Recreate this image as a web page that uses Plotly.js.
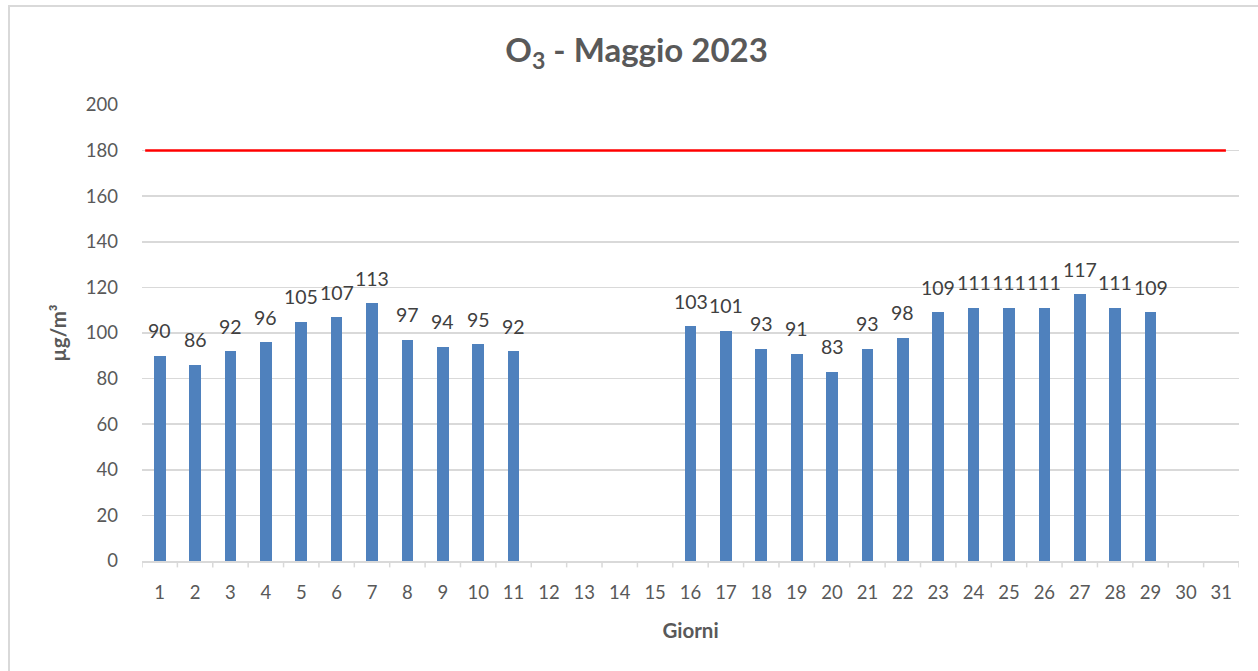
<!DOCTYPE html>
<html>
<head>
<meta charset="utf-8">
<script src="https://cdn.plot.ly/plotly-3.0.1.min.js"></script>
<style>
html,body{margin:0;padding:0;background:#fff;overflow:hidden;}
#frame{position:absolute;left:8px;top:5px;width:1300px;height:720px;border:2px solid #d9d9d9;box-sizing:border-box;}
#chart{position:absolute;left:0;top:0;width:1258px;height:671px;}
</style>
</head>
<body>
<div id="frame"></div>
<div id="chart"></div>
<script>
const days = [1,2,3,4,5,6,7,8,9,10,11,12,13,14,15,16,17,18,19,20,21,22,23,24,25,26,27,28,29,30,31];
const values = [90,86,92,96,105,107,113,97,94,95,92,null,null,null,null,103,101,93,91,83,93,98,109,111,111,111,117,111,109,null,null];
const limitValue = 180;
const tickLabels = days.map(String);

const font = "Lato, 'Open Sans', sans-serif";

const bars = {
  type: 'bar',
  x: days,
  y: values,
  width: 0.33,
  marker: {color: '#4f81bd'},
  hoverinfo: 'x+y'
};

const labelAnnotations = days
  .map((d, i) => ({d, v: values[i]}))
  .filter(p => p.v !== null)
  .map(p => ({
    x: p.d, y: p.v, xref: 'x', yref: 'y',
    text: String(p.v), showarrow: false,
    yanchor: 'middle', xanchor: 'center', yshift: 25,
    font: {family: font, size: 19.5, color: '#404040'}
  }));

const layout = {
  width: 1258, height: 671,
  paper_bgcolor: 'rgba(0,0,0,0)',
  plot_bgcolor: 'rgba(0,0,0,0)',
  margin: {l: 142, r: 19, t: 105, b: 110},
  showlegend: false,
  bargap: 0,
  title: {
    text: '<b>O<sub>3</sub> - Maggio 2023</b>',
    font: {family: font, size: 33, color: '#595959'},
    x: 0.506, xref: 'container', xanchor: 'center',
    y: 0.925, yref: 'container', yanchor: 'middle'
  },
  xaxis: {
    type: 'linear',
    range: [0.5, 31.5],
    tickmode: 'array',
    tickvals: days,
    ticktext: tickLabels,
    showgrid: false,
    showline: true,
    linecolor: '#d9d9d9',
    linewidth: 1.5,
    ticks: '',
    tickfont: {family: font, size: 18.5, color: '#595959'},
    ticklabelstandoff: 14,
    zeroline: false,
    fixedrange: true,
    title: {text: '<b>Giorni</b>', font: {family: font, size: 20.5, color: '#595959'}, standoff: 22}
  },
  yaxis: {
    range: [0, 200],
    tickmode: 'linear', tick0: 0, dtick: 20,
    showgrid: true,
    gridcolor: '#d9d9d9',
    gridwidth: 1.5,
    zeroline: false,
    showline: false,
    ticks: '',
    tickfont: {family: font, size: 18.5, color: '#595959'},
    ticklabelstandoff: 23,
    fixedrange: true,
    title: {text: '<b>µg/m³</b>', font: {family: font, size: 20.5, color: '#595959'}, standoff: 13}
  },
  annotations: labelAnnotations,
  shapes: [
    {type: 'line', xref: 'x', yref: 'y', x0: 0.59, x1: 31.13, y0: limitValue, y1: limitValue,
     line: {color: '#ff0000', width: 2.5}}
  ].concat(days.concat([days.length + 1]).map(d => ({
    type: 'line', xref: 'x', yref: 'paper', x0: d - 0.5, x1: d - 0.5, y0: 0, y1: -0.014,
    line: {color: '#d9d9d9', width: 1.5}
  })))
};

Plotly.newPlot('chart', [bars], layout, {displayModeBar: false, staticPlot: true});
</script>
</body>
</html>
